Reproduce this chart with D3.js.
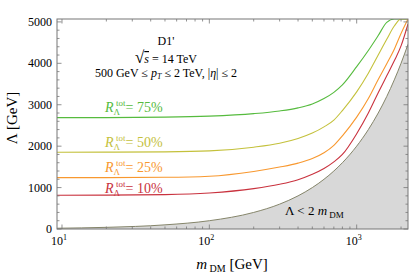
<!DOCTYPE html>
<html>
<head>
<meta charset="utf-8">
<script src="https://cdn.jsdelivr.net/npm/d3@7"></script>
<style>
  body { margin: 0; background: #fff; }
  svg { display: block; font-family: "Liberation Serif", "DejaVu Serif", serif; }
</style>
</head>
<body>
<div id="chart"></div>
<script>
// chart size and plot box
const width = 409;
const height = 273;
const margin = {left: 57, right: 1, top: 19, bottom: 44};

// dark matter masses where the curves were read (GeV)
const mDM = [9.25, 20, 50, 100, 200, 300, 400, 500, 600, 700, 800, 1000, 1200, 1400, 1600, 1800, 2000, 2230];

// Lambda (GeV) for each R_Lambda^tot curve
const r75 = [2690, 2690, 2700, 2725, 2785, 2850, 2925, 3020, 3150, 3300, 3480, 3920, 4310, 4670, 4990, 5300, 5600, 5900];
const r50 = [1853, 1855, 1862, 1885, 1975, 2070, 2185, 2315, 2465, 2630, 2860, 3310, 3760, 4200, 4580, 4900, 5200, 5600];
const r25 = [1240, 1241, 1248, 1275, 1390, 1495, 1590, 1700, 1840, 2020, 2250, 2700, 3150, 3610, 3990, 4340, 4720, 5120];
const r10 = [815, 817, 830, 870, 975, 1080, 1190, 1320, 1460, 1620, 1800, 2300, 2800, 3290, 3700, 4060, 4420, 4950];

// excluded region boundary Lambda = 2 m_DM
const lambdaMin = [18.5, 40, 100, 200, 400, 600, 800, 1000, 1200, 1400, 1600, 2000, 2400, 2800, 3200, 3600, 4000, 4460];

const seriesNames = ["75%", "50%", "25%", "10%"];
const seriesValues = [r75, r50, r25, r10];
const seriesColors = ["#56bb3e", "#c4c13c", "#f8982f", "#c9323e"];

// axis ticks
const yTicks = [0, 1000, 2000, 3000, 4000, 5000];
const xMajor = [10, 100, 1000];
const xMajorExp = ["1", "2", "3"];

const xMin = 9.25, xMax = 2230, yMax = 5070;

const svg = d3.select("#chart")
  .append("svg")
  .attr("width", width)
  .attr("height", height);

const x = d3.scaleLog()
  .domain([xMin, xMax])
  .range([margin.left, width - margin.right]);

const y = d3.scaleLinear()
  .domain([0, yMax])
  .range([height - margin.bottom, margin.top]);

const x0 = x.range()[0], x1 = x.range()[1];
const y0 = y.range()[0], y1 = y.range()[1];

svg.append("defs").append("clipPath").attr("id", "plot")
  .append("rect")
  .attr("x", x0).attr("y", y1)
  .attr("width", x1 - x0).attr("height", y0 - y1);

const plot = svg.append("g").attr("clip-path", "url(#plot)");

// shaded region Lambda < 2 m
const area = d3.area()
  .x((d, i) => x(mDM[i]))
  .y0(y(0))
  .y1(d => y(d))
  .curve(d3.curveMonotoneX);

plot.append("path")
  .datum(lambdaMin)
  .attr("d", area)
  .attr("fill", "#d8d8d8");

const line = d3.line()
  .x((d, i) => x(mDM[i]))
  .y(d => y(Math.min(d, yMax)))
  .curve(d3.curveMonotoneX);

plot.append("path")
  .datum(lambdaMin)
  .attr("d", line)
  .attr("fill", "none")
  .attr("stroke", "#85856a")
  .attr("stroke-width", 1);

seriesValues.forEach((vals, k) => {
  plot.append("path")
    .datum(vals)
    .attr("d", line)
    .attr("fill", "none")
    .attr("stroke", seriesColors[k])
    .attr("stroke-width", 1.1);
});

// frame
svg.append("rect")
  .attr("x", x0).attr("y", y1)
  .attr("width", x1 - x0).attr("height", y0 - y1)
  .attr("fill", "none")
  .attr("stroke", "#777")
  .attr("stroke-width", 1);

// ticks pointing inward on all sides
const ticks = svg.append("g").attr("stroke", "#777").attr("stroke-width", 0.8);

const yMinor = d3.range(0, yMax, 200);
yMinor.forEach(v => {
  const len = v % 1000 === 0 ? 4.5 : 2.5;
  ticks.append("line").attr("x1", x0).attr("x2", x0 + len).attr("y1", y(v)).attr("y2", y(v));
  ticks.append("line").attr("x1", x1).attr("x2", x1 - len).attr("y1", y(v)).attr("y2", y(v));
});

const xMinor = [];
[1, 10, 100, 1000].forEach(dec => {
  for (let k = 1; k < 10; k++) {
    const v = dec * k;
    if (v >= xMin && v <= xMax) xMinor.push(v);
  }
});
xMinor.forEach(v => {
  const len = xMajor.includes(v) ? 4.5 : 2.5;
  ticks.append("line").attr("x1", x(v)).attr("x2", x(v)).attr("y1", y0).attr("y2", y0 - len);
  ticks.append("line").attr("x1", x(v)).attr("x2", x(v)).attr("y1", y1).attr("y2", y1 + len);
});

// tick labels
svg.append("g")
  .selectAll("text")
  .data(yTicks)
  .join("text")
  .attr("x", x0 - 5)
  .attr("y", d => y(d) + 4)
  .attr("text-anchor", "end")
  .attr("font-size", 12)
  .text(d => d);

xMajor.forEach((v, i) => {
  const t = svg.append("text")
    .attr("x", x(v) - 3)
    .attr("y", y0 + 16)
    .attr("text-anchor", "middle")
    .attr("font-size", 12);
  t.append("tspan").text("10");
  t.append("tspan").attr("dy", -5).attr("font-size", 8).text(xMajorExp[i]);
});

// axis titles
const xt = svg.append("text")
  .attr("x", 232)
  .attr("y", 269)
  .attr("text-anchor", "middle")
  .attr("font-size", 15);
xt.append("tspan").attr("font-style", "italic").text("m");
xt.append("tspan").attr("dy", 3).attr("font-size", 10).text(" DM");
xt.append("tspan").attr("dy", -3).text(" [GeV]");

svg.append("text")
  .attr("transform", "translate(17,118) rotate(-90)")
  .attr("text-anchor", "middle")
  .attr("font-size", 15)
  .text("Λ [GeV]");

// curve labels
const labelBase = [112, 147, 172, 193];
seriesNames.forEach((name, k) => {
  const t = svg.append("text")
    .attr("x", 105)
    .attr("y", labelBase[k])
    .attr("font-size", 14)
    .attr("fill", seriesColors[k]);
  t.append("tspan").attr("font-style", "italic").text("R");
  t.append("tspan").attr("dy", 3).attr("font-size", 9).text("Λ");
  t.append("tspan").attr("dx", -4).attr("dy", -9).attr("font-size", 9).text("tot");
  t.append("tspan").attr("dy", 6).text("= " + name);
});

// cut description
svg.append("text")
  .attr("x", 166).attr("y", 45)
  .attr("text-anchor", "middle")
  .attr("font-size", 12)
  .text("D1'");

const s = svg.append("text")
  .attr("x", 166).attr("y", 63)
  .attr("text-anchor", "middle")
  .attr("font-size", 12);
s.append("tspan").attr("font-size", 17).text("√");
s.append("tspan").attr("font-style", "italic").attr("text-decoration", "overline").text("s");
s.append("tspan").text("  = 14 TeV");

const c = svg.append("text")
  .attr("x", 166).attr("y", 77)
  .attr("text-anchor", "middle")
  .attr("font-size", 12);
c.append("tspan").text("500 GeV ≤ ");
c.append("tspan").attr("font-style", "italic").text("p");
c.append("tspan").attr("dy", 2).attr("font-size", 8).attr("font-style", "italic").text("T");
c.append("tspan").attr("dy", -2).text(" ≤ 2 TeV, |");
c.append("tspan").attr("font-style", "italic").text("η");
c.append("tspan").text("| ≤ 2");

const ex = svg.append("text")
  .attr("x", 285).attr("y", 215)
  .attr("font-size", 13);
ex.append("tspan").text("Λ < 2 ");
ex.append("tspan").attr("font-style", "italic").text("m");
ex.append("tspan").attr("dy", 3).attr("font-size", 9).text(" DM");
</script>
</body>
</html>
